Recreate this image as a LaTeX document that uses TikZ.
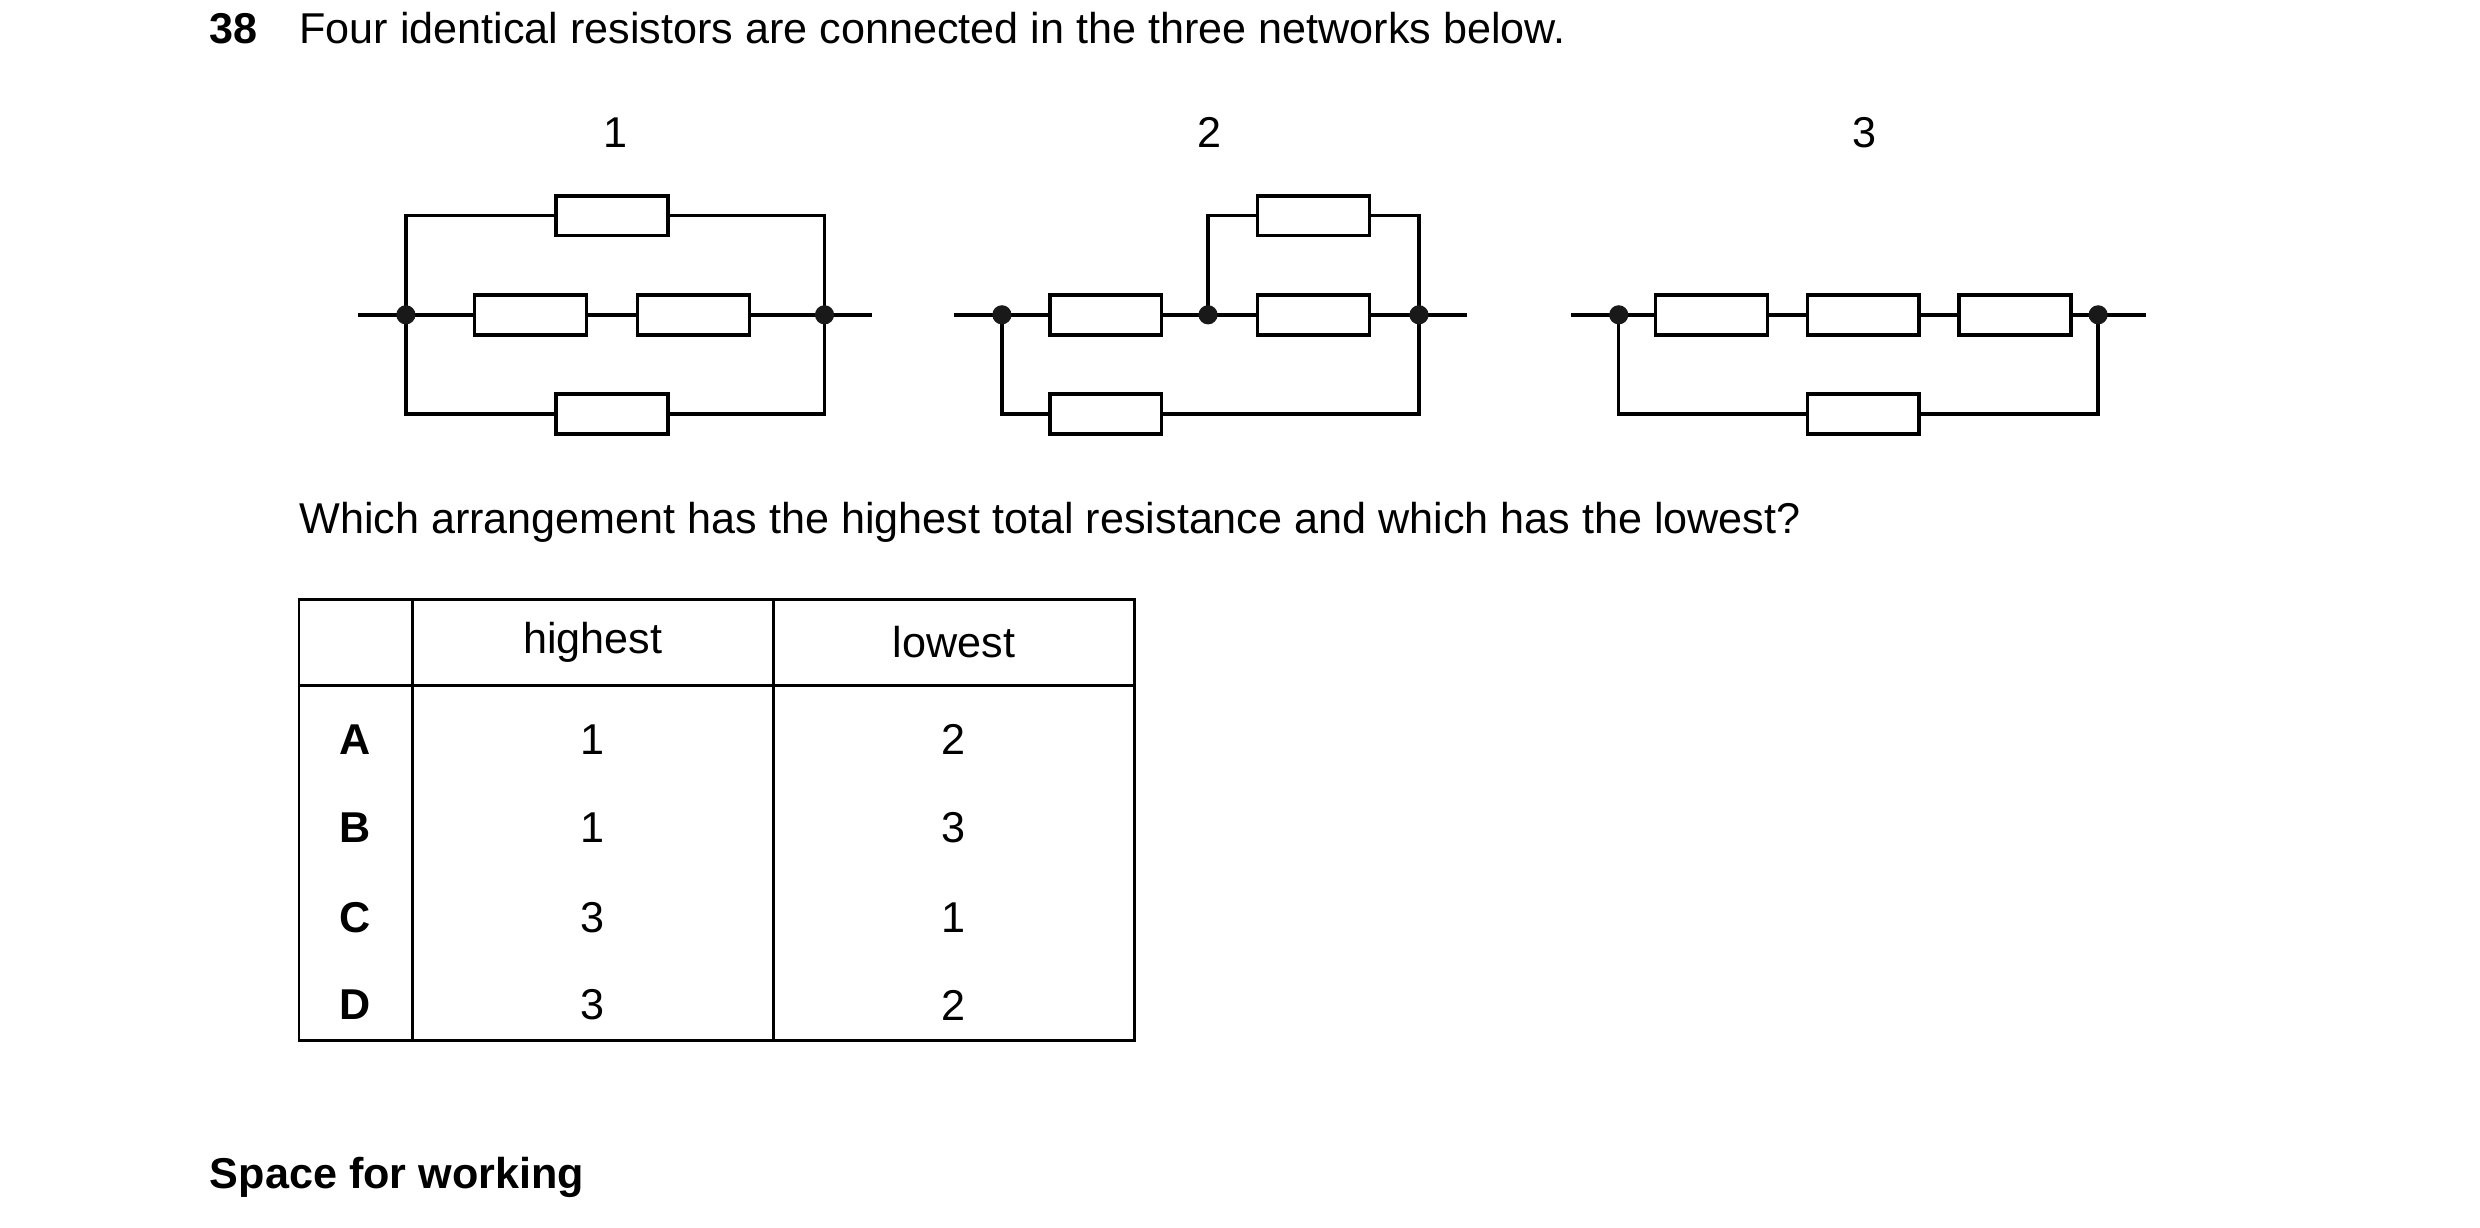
\documentclass[tikz,border=0pt]{standalone}
\usepackage{fontspec}
\setmainfont{Liberation Sans}
\begin{document}
\begin{tikzpicture}[x=0.5pt,y=-0.5pt,
  wire/.style={line width=1.1pt},
  res/.style={draw,line width=1.1pt,fill=white,minimum width=35pt,minimum height=12.5pt,inner sep=0pt},
  dot/.style={circle,fill=black!90,inner sep=0pt,minimum size=6pt},
  txt/.style={font=\fontsize{13.5pt}{16pt}\selectfont,inner sep=0pt},
  btxt/.style={font=\fontsize{13.5pt}{16pt}\selectfont\bfseries,inner sep=0pt}]
\useasboundingbox (0,0) rectangle (1552,768);
% header
\node[btxt,anchor=base west] (qn) at (131,27) {38};
\node[txt,anchor=base west] (qt) at (187,27) {Four identical resistors are connected in the three networks below.};
\node[txt] (l1) at (385,83) {1};
\node[txt] (l2) at (757,83) {2};
\node[txt] (l3) at (1167,83) {3};
% circuit 1
\coordinate (a0) at (224,197); \coordinate (a9) at (546,197);
\coordinate (at1) at (254,135); \coordinate (at2) at (516,135);
\coordinate (ab1) at (254,259); \coordinate (ab2) at (516,259);
\draw[wire] (a0) -- (a9);
\draw[wire] (254,197) -- (at1) -- (at2) -- (516,197);
\draw[wire] (254,197) -- (ab1) -- (ab2) -- (516,197);
\node[res] (r1t) at (383,135) {};
\node[res] (r1b) at (383,259) {};
\node[res] (r1m1) at (332,197) {};
\node[res] (r1m2) at (434,197) {};
\node[dot] (n1a) at (254,197) {};
\node[dot] (n1b) at (516,197) {};
% circuit 2
\coordinate (b0) at (597,197); \coordinate (b9) at (918,197);
\draw[wire] (b0) -- (b9);
\draw[wire] (756,197) -- (756,135) -- (888,135) -- (888,197);
\draw[wire] (627,197) -- (627,259) -- (888,259) -- (888,197);
\node[res] (r2a) at (692,197) {};
\node[res] (r2b) at (822,197) {};
\node[res] (r2t) at (822,135) {};
\node[res] (r2l) at (692,259) {};
\node[dot] (n2a) at (627,197) {};
\node[dot] (n2b) at (756,197) {};
\node[dot] (n2c) at (888,197) {};
% circuit 3
\coordinate (c0) at (983,197); \coordinate (c9) at (1343,197);
\draw[wire] (c0) -- (c9);
\draw[wire] (1013,197) -- (1013,259) -- (1313,259) -- (1313,197);
\node[res] (r3a) at (1071,197) {};
\node[res] (r3b) at (1166,197) {};
\node[res] (r3c) at (1261,197) {};
\node[res] (r3l) at (1166,259) {};
\node[dot] (n3a) at (1013,197) {};
\node[dot] (n3b) at (1313,197) {};
% question
\node[txt,anchor=base west] (q2) at (187,334) {Which arrangement has the highest total resistance and which has the lowest?};
% table
\draw[line width=0.8pt] (187,375) rectangle (710,651);
\draw[line width=0.8pt] (187,429) -- (710,429);
\draw[line width=0.8pt] (258,375) -- (258,651);
\draw[line width=0.8pt] (484,375) -- (484,651);
\node[txt] (h1) at (371,402) {highest};
\node[txt] (h2) at (597,402) {lowest};
\foreach \y/\L/\h/\lo in {463/A/1/2,518/B/1/3,574/C/3/1,629/D/3/2}{
  \node[btxt] (L\L) at (222,\y) {\L};
  \node[txt] (H\L) at (371,\y) {\h};
  \node[txt] (W\L) at (597,\y) {\lo};
}
\node[btxt,anchor=base west] (sp) at (131,744) {Space for working};
\end{tikzpicture}
\end{document}
